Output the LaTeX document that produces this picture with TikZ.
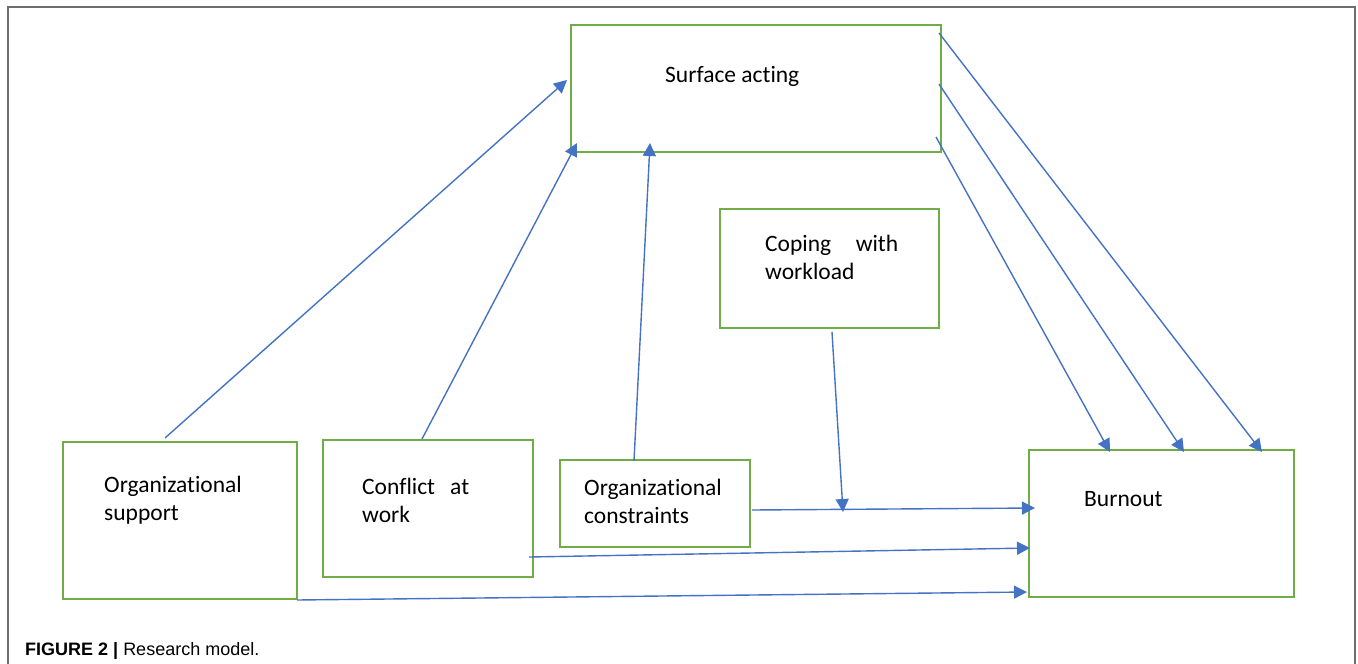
\documentclass[tikz,border=0pt]{standalone}
\usepackage{fontspec}
\setmainfont{Carlito}[Ligatures=NoCommon]
\newfontfamily\capfont{Liberation Sans}
\usetikzlibrary{arrows.meta}
\definecolor{boxgreen}{HTML}{70AD47}
\definecolor{arrowblue}{HTML}{4472C4}
\definecolor{framegray}{HTML}{6E6E6E}
\tikzset{
  box/.style={draw=boxgreen, line width=2.8pt, rectangle, inner sep=0pt, fill=none},
  lbl/.style={anchor=base west, inner sep=0pt, font=\fontsize{23.5}{28}\selectfont, text=black},
  conn/.style={draw=arrowblue, line width=1.4pt, -{Triangle[length=13pt,width=13pt]}},
  frameline/.style={draw=framegray, line width=2pt}
}
\begin{document}
\begin{tikzpicture}[x=1pt,y=-1pt]
\useasboundingbox (0,0) rectangle (1358,664);
\draw[frameline] (8,664) -- (8,7) -- (1355,7) -- (1355,664);

% boxes
\node[box, minimum width=370pt, minimum height=127pt] (sa) at (756,88.5) {};
\node[box, minimum width=219pt, minimum height=119pt] (cw) at (829.5,268.5) {};
\node[box, minimum width=234pt, minimum height=157pt] (os) at (180,520.5) {};
\node[box, minimum width=210pt, minimum height=137pt] (ca) at (428,508.5) {};
\node[box, minimum width=190pt, minimum height=87pt] (oc) at (655,503.5) {};
\node[box, minimum width=265pt, minimum height=147pt] (bo) at (1161.5,523.5) {};

% labels
\node[lbl] (sa-t) at (665,82) {Surface acting};
\node[lbl] (cw-t) at (765,251) {\parbox[t]{133pt}{Coping\hfill with\\workload}};
\node[lbl] (os-t) at (104,492) {\parbox[t]{160pt}{Organizational\\support}};
\node[lbl] (ca-t) at (362,494) {\parbox[t]{107pt}{Conflict\hfill at\\work}};
\node[lbl] (oc-t) at (584,495) {\parbox[t]{160pt}{Organizational\\constraints}};
\node[lbl] (bo-t) at (1084,506) {Burnout};

% connector end points
\coordinate (os-a) at (165,438);
\coordinate (ca-a) at (422,439);
\coordinate (oc-a) at (634,461);
\coordinate (sa-in1) at (567,80);
\coordinate (sa-in2) at (577,143);
\coordinate (sa-in3) at (650,143);
\coordinate (sa-o1) at (939,33);
\coordinate (sa-o2) at (939,84);
\coordinate (sa-o3) at (936,137);
\coordinate (bo-i1) at (1110,452);
\coordinate (bo-i2) at (1184,452);
\coordinate (bo-i3) at (1262,452);
\coordinate (bo-i4) at (1035,508);
\coordinate (bo-i5) at (1030,548);
\coordinate (bo-i6) at (1027,592);
\coordinate (cw-a) at (832,332);
\coordinate (oc-b) at (752,510);
\coordinate (mid) at (843,512);
\coordinate (ca-b) at (529,557);
\coordinate (os-b) at (297,600);

% connectors
\draw[conn] (os-a) -- (sa-in1);
\draw[conn] (ca-a) -- (sa-in2);
\draw[conn] (oc-a) -- (sa-in3);
\draw[conn] (sa-o3) -- (bo-i1);
\draw[conn] (sa-o2) -- (bo-i2);
\draw[conn] (sa-o1) -- (bo-i3);
\draw[conn] (cw-a) -- (mid);
\draw[conn] (oc-b) -- (bo-i4);
\draw[conn] (ca-b) -- (bo-i5);
\draw[conn] (os-b) -- (bo-i6);

% caption
\node[anchor=base west, inner sep=0pt, font=\capfont\fontsize{18}{22}\selectfont] (cap) at (25,655) {\textbf{FIGURE 2 |} Research model.};
\end{tikzpicture}
\end{document}
